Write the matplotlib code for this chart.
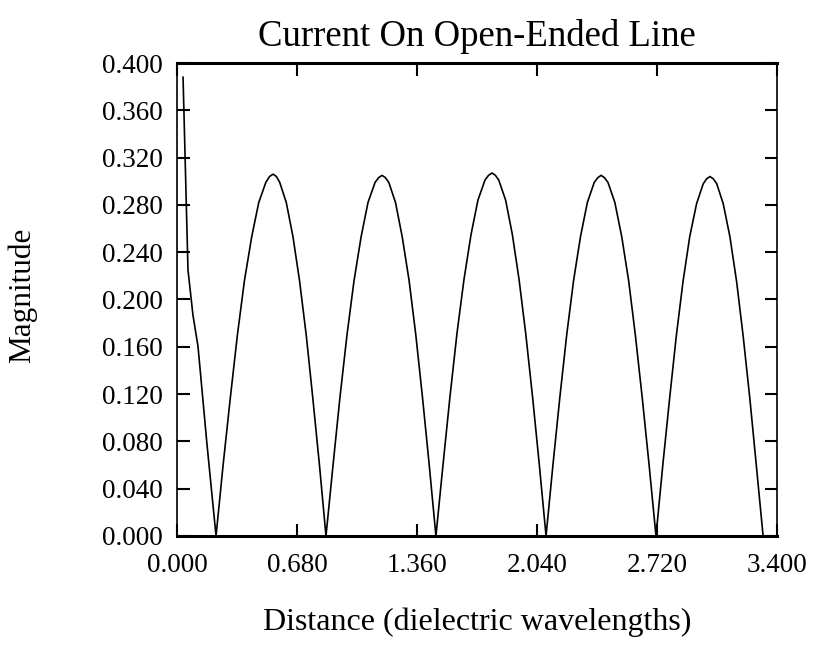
"""
Current magnitude along an open-ended transmission line.
"""
import matplotlib
matplotlib.use("Agg")
from matplotlib import pyplot as plt
from matplotlib.ticker import MultipleLocator, FormatStrFormatter

# distance (dielectric wavelengths) and current magnitude, sampled along the line
lead_x = [0.034, 0.062, 0.090, 0.119, 0.170, 0.221]
lead_y = [0.388, 0.225, 0.187, 0.160, 0.077, 0.000]

lobe1_x = [0.261, 0.302, 0.342, 0.382, 0.423, 0.463, 0.503, 0.524, 0.544,
           0.563, 0.582, 0.619, 0.657, 0.694, 0.732, 0.769, 0.807, 0.844]
lobe1_y = [0.060, 0.117, 0.170, 0.216, 0.253, 0.282, 0.299, 0.304, 0.306,
           0.304, 0.299, 0.282, 0.253, 0.216, 0.170, 0.117, 0.060, 0.000]

lobe2_x = [0.884, 0.923, 0.963, 1.003, 1.043, 1.082, 1.122, 1.142, 1.162,
           1.181, 1.200, 1.238, 1.276, 1.315, 1.353, 1.391, 1.429, 1.467]
lobe2_y = [0.060, 0.117, 0.170, 0.216, 0.253, 0.282, 0.299, 0.303, 0.305,
           0.303, 0.299, 0.282, 0.253, 0.216, 0.170, 0.117, 0.060, 0.000]

lobe3_x = [1.507, 1.546, 1.586, 1.626, 1.666, 1.705, 1.745, 1.765, 1.785,
           1.804, 1.823, 1.862, 1.900, 1.938, 1.976, 2.015, 2.053, 2.091]
lobe3_y = [0.060, 0.117, 0.171, 0.217, 0.255, 0.284, 0.301, 0.305, 0.307,
           0.305, 0.301, 0.284, 0.255, 0.217, 0.171, 0.117, 0.060, 0.000]

lobe4_x = [2.130, 2.169, 2.208, 2.247, 2.286, 2.325, 2.364, 2.384, 2.403,
           2.422, 2.442, 2.481, 2.520, 2.559, 2.597, 2.636, 2.675, 2.714]
lobe4_y = [0.060, 0.117, 0.170, 0.216, 0.253, 0.282, 0.299, 0.303, 0.305,
           0.303, 0.299, 0.282, 0.253, 0.216, 0.170, 0.117, 0.060, 0.000]

lobe5_x = [2.752, 2.791, 2.829, 2.867, 2.905, 2.944, 2.982, 3.001, 3.020,
           3.039, 3.058, 3.095, 3.133, 3.171, 3.208, 3.246, 3.283, 3.321]
lobe5_y = [0.059, 0.116, 0.169, 0.215, 0.253, 0.281, 0.298, 0.302, 0.304,
           0.302, 0.298, 0.281, 0.253, 0.215, 0.169, 0.116, 0.059, 0.000]

distance = lead_x + lobe1_x + lobe2_x + lobe3_x + lobe4_x + lobe5_x
magnitude = lead_y + lobe1_y + lobe2_y + lobe3_y + lobe4_y + lobe5_y

plt.rcParams["font.family"] = ["Liberation Serif", "DejaVu Serif"]

fig = plt.figure(figsize=(8.17, 6.53), dpi=100)
ax = fig.add_axes([0.2167, 0.1792, 0.7344, 0.7243])

ax.plot(distance, magnitude, color="black", linewidth=1.2,
        solid_joinstyle="round")

ax.set_xlim(0, 3.4)
ax.set_ylim(0, 0.4)
ax.xaxis.set_major_locator(MultipleLocator(0.68))
ax.yaxis.set_major_locator(MultipleLocator(0.04))
ax.xaxis.set_major_formatter(FormatStrFormatter("%.3f"))
ax.yaxis.set_major_formatter(FormatStrFormatter("%.3f"))
ax.tick_params(axis="both", direction="in", length=9, width=1.5,
               labelsize=19.5, colors="black")
ax.tick_params(axis="y", right=True, pad=10)
ax.tick_params(axis="x", top=True, pad=12)

for side in ["top", "bottom"]:
    ax.spines[side].set_linewidth(2.2)
for side in ["left", "right"]:
    ax.spines[side].set_linewidth(1.2)

ax.set_title("Current On Open-Ended Line", fontsize=26.5, pad=12)
fig.text(0.584, 0.047, "Distance (dielectric wavelengths)", fontsize=23,
         ha="center", va="center")
fig.text(0.027, 0.547, "Magnitude", fontsize=22.5, rotation=90,
         ha="center", va="center")

fig.savefig("out.png", dpi=100)
